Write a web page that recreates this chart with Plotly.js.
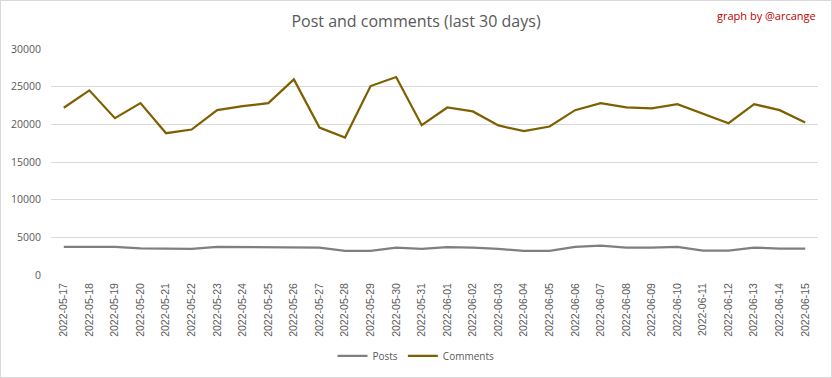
<!DOCTYPE html>
<html><head><meta charset="utf-8">
<script src="https://cdn.plot.ly/plotly-3.0.1.min.js"></script>
<style>html,body{margin:0;padding:0;background:#fff;}#chart{width:832px;height:378px;box-sizing:border-box;border:1px solid #d9d9d9;}</style>
</head><body><div id="chart"></div>
<script>
const dates = ["2022-05-17","2022-05-18","2022-05-19","2022-05-20","2022-05-21","2022-05-22","2022-05-23","2022-05-24","2022-05-25","2022-05-26","2022-05-27","2022-05-28","2022-05-29","2022-05-30","2022-05-31","2022-06-01","2022-06-02","2022-06-03","2022-06-04","2022-06-05","2022-06-06","2022-06-07","2022-06-08","2022-06-09","2022-06-10","2022-06-11","2022-06-12","2022-06-13","2022-06-14","2022-06-15"];
const posts = [3730,3730,3730,3550,3460,3460,3730,3730,3730,3640,3640,3200,3200,3640,3460,3700,3640,3460,3200,3200,3730,3910,3640,3640,3730,3240,3240,3640,3510,3510];
const comments = [22200,24510,20820,22820,18820,19310,21880,22420,22820,25970,19580,18250,25080,26280,19890,22240,21710,19850,19090,19710,21880,22820,22240,22110,22680,21440,20150,22680,21880,20250];
const yTicks = [0,5000,10000,15000,20000,25000,30000];

const font = "Open Sans, sans-serif";
Plotly.newPlot('chart', [
  {x: dates, y: posts, name: 'Posts', type: 'scatter', mode: 'lines', line: {color: '#7f7f7f', width: 2.25}},
  {x: dates, y: comments, name: 'Comments', type: 'scatter', mode: 'lines', line: {color: '#7f6000', width: 2.25}}
], {
  width: 830, height: 376,
  margin: {l: 50, r: 13, t: 48, b: 102},
  paper_bgcolor: '#fff', plot_bgcolor: '#fff',
  font: {family: font, color: '#595959', size: 10},
  title: {text: 'Post and comments (last 30 days)', x: 0.5, xanchor: 'center', y: 0.945, yanchor: 'middle', font: {family: font, size: 16, color: '#595959'}},
  xaxis: {type: 'category', range: [-0.5, dates.length - 0.5], tickangle: -90, showgrid: false, zeroline: false, showline: false, ticks: '', ticklen: 0, ticklabelstandoff: 5, tickfont: {family: 'Liberation Sans, sans-serif', size: 10.5, color: '#595959'}, automargin: false},
  yaxis: {range: [0, 30000], tickvals: yTicks, ticktext: yTicks.map(String), showgrid: true, gridcolor: '#d9d9d9', gridwidth: 1, zeroline: false, showline: false, ticks: '', ticklabelstandoff: 9, tickfont: {family: font, size: 10.5, color: '#595959'}, automargin: false},
  showlegend: true,
  legend: {orientation: 'h', xref: 'container', yref: 'container', x: 0.5, xanchor: 'center', y: 0.056, yanchor: 'middle', font: {family: font, size: 10, color: '#595959'}},
  annotations: [{text: 'graph by @arcange', xref: 'paper', yref: 'paper', x: 1.0, xanchor: 'right', y: 1.15, yanchor: 'middle', showarrow: false, font: {family: font, size: 11, color: '#c00000'}}]
}, {displayModeBar: false, staticPlot: true});
</script></body></html>
